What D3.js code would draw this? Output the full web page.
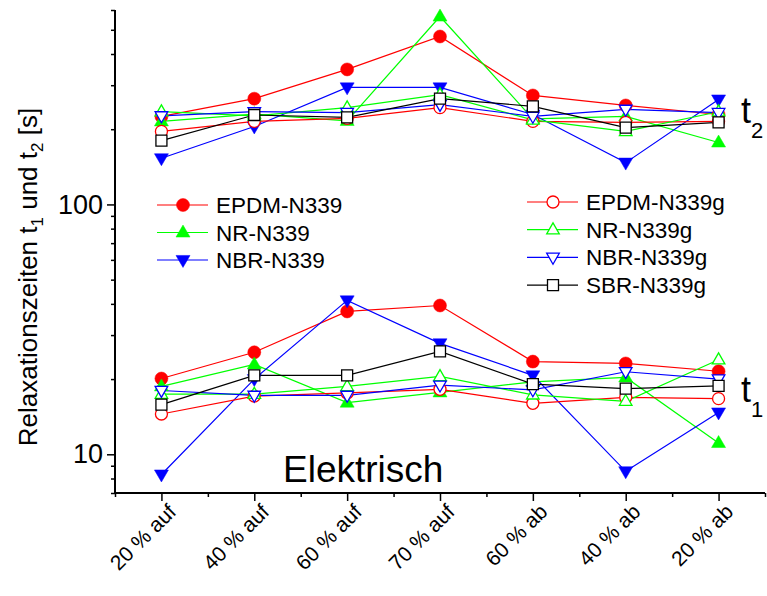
<!DOCTYPE html>
<html><head><meta charset="utf-8">
<script src="https://cdn.jsdelivr.net/npm/d3@7"></script>
<style>
body{margin:0;background:#fff;}
svg{display:block;font-family:"Liberation Sans",Arial,sans-serif;}
</style></head>
<body><svg id="c" width="767" height="596"></svg>
<script>
const categories = ["20 % auf","40 % auf","60 % auf","70 % auf","60 % ab","40 % ab","20 % ab"];
const seriesNames = ["EPDM-N339","NR-N339","NBR-N339","EPDM-N339g","NR-N339g","NBR-N339g","SBR-N339g"];
// t2 values [s]
const t2_EPDM  = [225, 265, 347, 470, 273, 249, 229];
const t2_NR    = [215, 230, 216, 565, 220, 225, 177];
const t2_NBR   = [153, 205, 294, 294, 229, 147, 263];
const t2_EPDMg = [196, 215, 221, 244, 215, 213, 215];
const t2_NRg   = [235, 226, 244, 275, 218, 196, 235];
const t2_NBRg  = [226, 235, 233, 251, 225, 240, 233];
const t2_SBRg  = [180, 228, 223, 265, 247, 203, 213];
// t1 values [s]
const t1_EPDM  = [20.1, 25.6, 37.3, 39.4, 23.5, 23.1, 21.5];
const t1_NR    = [18.7, 22.9, 16.1, 17.7, 19.5, 20.3, 11.1];
const t1_NBR   = [8.3, 20.0, 41.3, 27.8, 20.7, 8.55, 14.7];
const t1_EPDMg = [14.5, 17.1, 17.6, 18.2, 16.0, 16.9, 16.7];
const t1_NRg   = [17.4, 17.4, 18.7, 20.5, 17.3, 16.3, 23.9];
const t1_NBRg  = [18.0, 17.2, 17.2, 18.9, 18.1, 21.4, 20.0];
const t1_SBRg  = [15.8, 20.7, 20.7, 25.8, 19.1, 18.3, 18.8];
const yMajorTicks = [10, 100];
const yMinorTicks = [7,8,9,20,30,40,50,60,70,80,90,200,300,400,500,600];

const styles = [
  {color:"#ff0000", shape:"circle", filled:true},
  {color:"#00ff00", shape:"up", filled:true},
  {color:"#0000ff", shape:"down", filled:true},
  {color:"#ff0000", shape:"circle", filled:false},
  {color:"#00ff00", shape:"up", filled:false},
  {color:"#0000ff", shape:"down", filled:false},
  {color:"#000000", shape:"square", filled:false}
];
const t2Data = [t2_EPDM,t2_NR,t2_NBR,t2_EPDMg,t2_NRg,t2_NBRg,t2_SBRg];
const t1Data = [t1_EPDM,t1_NR,t1_NBR,t1_EPDMg,t1_NRg,t1_NBRg,t1_SBRg];

const svg = d3.select("#c");
const x = d3.scaleLinear().domain([0.5, 7.5]).range([115, 765]);
const y = d3.scaleLog().domain([7, 600]).range([493, 10]);

function markerPath(shape, filled){
  if(shape==="circle"){ const r = filled?6.5:6; return `M${-r},0A${r},${r} 0 1,0 ${r},0A${r},${r} 0 1,0 ${-r},0Z`; }
  if(shape==="up"){ const w=filled?7:6.3, h=filled?12:11; return `M0,${-h*0.62}L${w},${h*0.38}L${-w},${h*0.38}Z`; }
  if(shape==="down"){ const w=filled?7:6.3, h=filled?12:11; return `M0,${h*0.62}L${w},${-h*0.38}L${-w},${-h*0.38}Z`; }
  if(shape==="square"){ const s=5.5; return `M${-s},${-s}H${s}V${s}H${-s}Z`; }
}

// axes
const yMinor = d3.axisLeft(y).tickValues(yMinorTicks).tickSize(4).tickFormat("");
const yMajor = d3.axisLeft(y).tickValues(yMajorTicks).tickSize(8).tickPadding(4).tickFormat(d3.format("d"));
const gy1 = svg.append("g").attr("transform","translate(115,0)").call(yMinor);
const gy2 = svg.append("g").attr("transform","translate(115,0)").call(yMajor);
[gy1,gy2].forEach(g=>{ g.select(".domain").remove(); g.selectAll("line").attr("stroke","#000").attr("stroke-width",1.5); });
gy2.selectAll("text").attr("font-size",27).attr("fill","#000").attr("font-family","Liberation Sans, Arial, sans-serif");

const xMinorTicks = d3.range(0, 8).map(i=>i+0.5);
const xMajorTicks = d3.range(1, 8);
const xMinor = d3.axisBottom(x).tickValues(xMinorTicks).tickSize(4).tickFormat("");
const xMajor = d3.axisBottom(x).tickValues(xMajorTicks).tickSize(8).tickFormat("");
const gx1 = svg.append("g").attr("transform","translate(0,493)").call(xMinor);
const gx2 = svg.append("g").attr("transform","translate(0,493)").call(xMajor);
[gx1,gx2].forEach(g=>{ g.select(".domain").remove(); g.selectAll("line").attr("stroke","#000").attr("stroke-width",1.5); });

svg.append("line").attr("x1",115).attr("x2",115).attr("y1",y(600)).attr("y2",493).attr("stroke","#000").attr("stroke-width",2);
svg.append("line").attr("x1",114).attr("x2",x(7.5)).attr("y1",493).attr("y2",493).attr("stroke","#000").attr("stroke-width",2);

// x labels
svg.append("g").selectAll("text").data(categories).join("text")
  .attr("transform",(d,i)=>`translate(${x(i+1)+16},${513}) rotate(-45)`)
  .attr("text-anchor","end").attr("font-size",21).attr("fill","#000").text(d=>d);

// y label
const yl = svg.append("text").attr("transform","translate(37,277) rotate(-90)").attr("text-anchor","middle").attr("font-size",26).attr("fill","#000");
yl.append("tspan").text("Relaxationszeiten t");
yl.append("tspan").attr("font-size",17).attr("dy",6).text("1");
yl.append("tspan").attr("dy",-6).text(" und t");
yl.append("tspan").attr("font-size",17).attr("dy",6).text("2");
yl.append("tspan").attr("dy",-6).text(" [s]");

// series lines & markers
const line = d3.line().x((d,i)=>x(i+1)).y(d=>y(d));
const plot = svg.append("g");
[t2Data, t1Data].forEach(set=>{
  set.forEach((vals,si)=>{
    const st = styles[si];
    plot.append("path").attr("d", line(vals)).attr("fill","none").attr("stroke",st.color).attr("stroke-width",1.2);
  });
});
[t2Data, t1Data].forEach(set=>{
  set.forEach((vals,si)=>{
    const st = styles[si];
    plot.append("g").selectAll("path").data(vals).join("path")
      .attr("transform",(d,i)=>`translate(${x(i+1)},${y(d)})`)
      .attr("d", markerPath(st.shape, st.filled))
      .attr("fill", st.filled?st.color:"#fff")
      .attr("stroke", st.color).attr("stroke-width", st.filled?0.5:1.3);
  });
});

// legends
function legendRow(si, lx, ly){
  const st = styles[si];
  const g = svg.append("g").attr("transform",`translate(${lx},${ly})`);
  g.append("line").attr("x1",0).attr("x2",51).attr("y1",0).attr("y2",0).attr("stroke",st.color).attr("stroke-width",1.2);
  g.append("path").attr("transform","translate(26,0)").attr("d",markerPath(st.shape, st.filled))
    .attr("fill", st.filled?st.color:"#fff").attr("stroke",st.color).attr("stroke-width", st.filled?0.5:1.3);
  g.append("text").attr("x",59).attr("y",8).attr("font-size",22.5).attr("fill","#000").text(seriesNames[si]);
}
[0,1,2].forEach((si,k)=>legendRow(si,157,205+k*27.5));
[3,4,5,6].forEach((si,k)=>legendRow(si,527,202+k*27.7));

// annotations
svg.append("text").attr("x",283).attr("y",482).attr("font-size",37).attr("fill","#000").text("Elektrisch");
const t2l = svg.append("text").attr("x",741).attr("y",123).attr("font-size",36).attr("fill","#000");
t2l.append("tspan").text("t");
t2l.append("tspan").attr("font-size",22).attr("dy",15).text("2");
const t1l = svg.append("text").attr("x",741).attr("y",402).attr("font-size",36).attr("fill","#000");
t1l.append("tspan").text("t");
t1l.append("tspan").attr("font-size",22).attr("dy",15).text("1");
</script></body></html>
